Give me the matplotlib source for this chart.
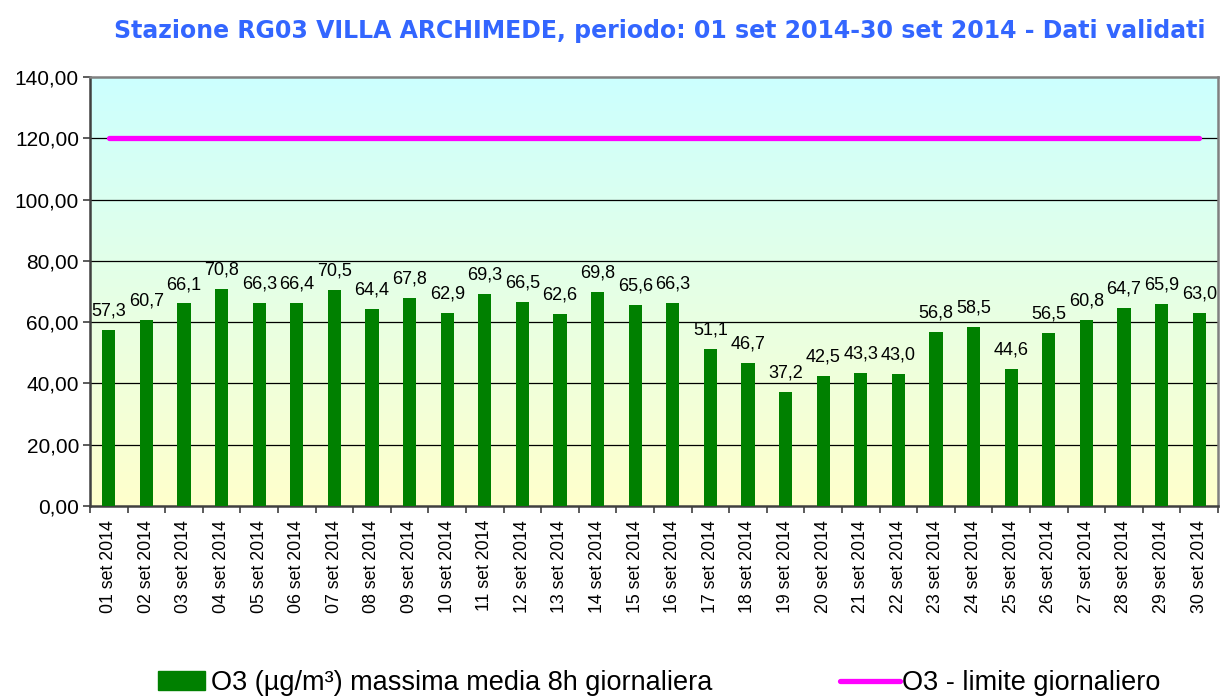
import numpy as np
import matplotlib
matplotlib.use("Agg")
import matplotlib.pyplot as plt
from matplotlib.colors import LinearSegmentedColormap
from matplotlib.patches import Patch
from matplotlib.lines import Line2D

# data
days = [f"{d:02d} set 2014" for d in range(1, 31)]
o3_max8h = [57.3, 60.7, 66.1, 70.8, 66.3, 66.4, 70.5, 64.4, 67.8, 62.9,
            69.3, 66.5, 62.6, 69.8, 65.6, 66.3, 51.1, 46.7, 37.2, 42.5,
            43.3, 43.0, 56.8, 58.5, 44.6, 56.5, 60.8, 64.7, 65.9, 63.0]
o3_limit = [120.0] * 30
yticks = [0, 20, 40, 60, 80, 100, 120, 140]

title = "Stazione RG03 VILLA ARCHIMEDE, periodo: 01 set 2014-30 set 2014 - Dati validati"
bar_label = "O3 (µg/m³) massima media 8h giornaliera"
line_label = "O3 - limite giornaliero"

plt.rcParams['font.family'] = ['Liberation Sans', 'DejaVu Sans']

fig = plt.figure(figsize=(12.21, 6.97), dpi=100)
ax = fig.add_axes([90 / 1221, 1 - 506 / 697, 1128 / 1221, 429 / 697])

# gradient background: cyan at top to pale yellow at bottom
cmap = LinearSegmentedColormap.from_list("bg", ["#FFFFCC", "#CCFFFF"])
grad = np.linspace(0, 1, 256).reshape(-1, 1)
ax.imshow(grad, cmap=cmap, aspect="auto", origin="lower",
          extent=[0, 1, 0, 1], transform=ax.transAxes, zorder=0)

x = np.arange(len(days))
ax.bar(x, o3_max8h, width=0.35, color="#008000", zorder=3)
ax.plot(x, o3_limit, color="#FF00FF", lw=3.8, solid_capstyle="round", zorder=4)

for xi, v in zip(x, o3_max8h):
    ax.annotate(f"{v:.1f}".replace(".", ","), (xi, v), xytext=(0, 7.5),
                textcoords="offset points", ha="center", va="bottom",
                fontsize=13, zorder=5)

ax.set_xlim(-0.5, len(days) - 0.5)
ax.set_ylim(0, 140)
ax.set_yticks(yticks)
ax.set_yticklabels([f"{t:.2f}".replace(".", ",") for t in yticks], fontsize=15)
ax.set_xticks(x)
ax.set_xticklabels(days, rotation=90, fontsize=12.8)
ax.tick_params(axis="x", length=0, pad=10)
ax.set_xticks(np.arange(-0.5, len(days), 1), minor=True)
ax.tick_params(axis="x", which="minor", length=5, width=1.2, color="#404040")
ax.tick_params(axis="y", length=5, width=1.2, color="#404040", pad=3)

for yv in yticks[1:-1]:
    ax.axhline(yv, color="black", lw=0.9, zorder=1)

for side in ["left", "bottom"]:
    ax.spines[side].set_color("#404040")
    ax.spines[side].set_linewidth(1.8)
for side in ["top", "right"]:
    ax.spines[side].set_color("#808080")
    ax.spines[side].set_linewidth(1.8)

fig.text(0.5405, 0.955, title, ha="center", va="center", fontsize=17,
         fontweight="bold", color="#3366FF", family="DejaVu Sans")

fig.legend(handles=[Patch(color="#008000")], labels=[bar_label],
           loc="center left", bbox_to_anchor=(158 / 1221, 1 - 683 / 697),
           frameon=False, fontsize=19.5, handlelength=1.75, handletextpad=0.19,
           borderpad=0, borderaxespad=0)
fig.legend(handles=[Line2D([], [], color="#FF00FF", lw=3.8, solid_capstyle="round")],
           labels=[line_label],
           loc="center left", bbox_to_anchor=(840 / 1221, 1 - 683 / 697),
           frameon=False, fontsize=19.5, handlelength=2.2, handletextpad=0.1,
           borderpad=0, borderaxespad=0)

fig.savefig("out.png", dpi=100)
